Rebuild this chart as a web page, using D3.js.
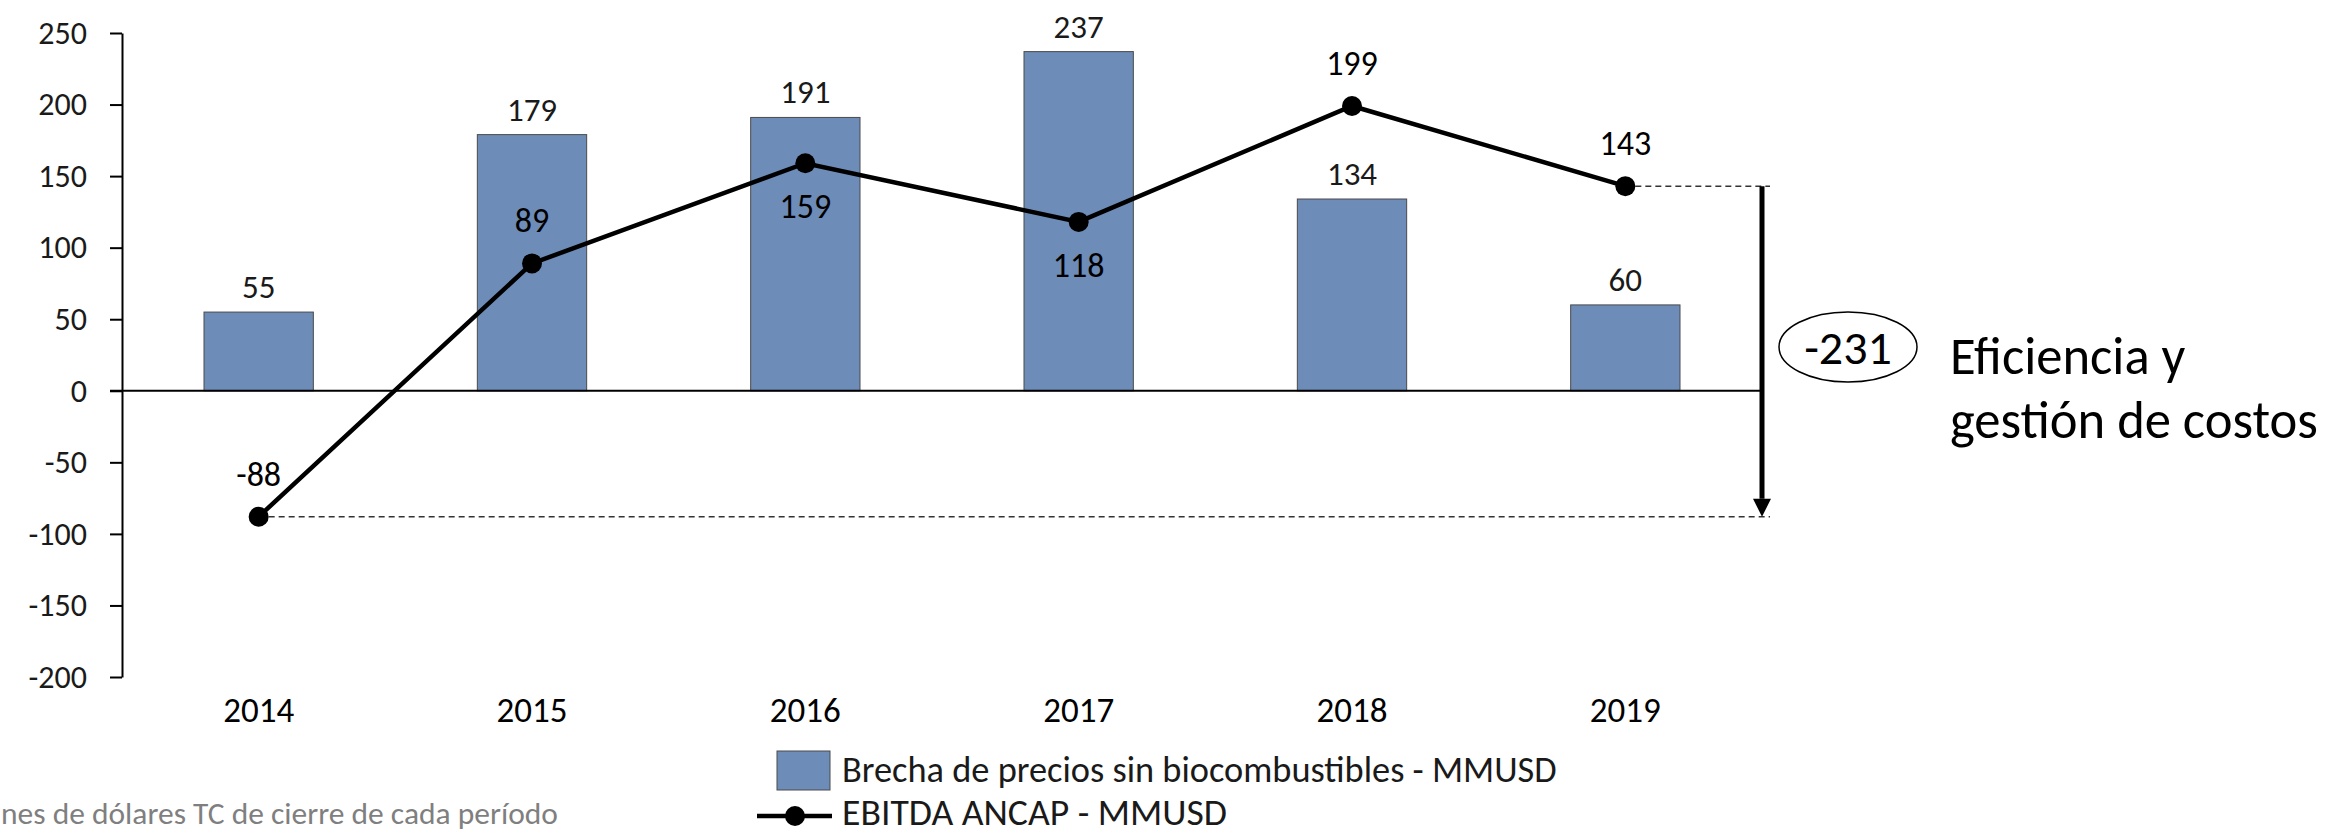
<!DOCTYPE html>
<html><head><meta charset="utf-8">
<script src="https://cdn.jsdelivr.net/npm/d3@7"></script>
<style>
html,body{margin:0;padding:0;background:#fff;overflow:hidden}
svg{display:block;font-family:Carlito,Lato,"Open Sans",sans-serif}
</style></head>
<body><svg id="c" width="2352" height="835"></svg>
<script>
const years = ["2014","2015","2016","2017","2018","2019"];
const brecha = [55,179,191,237,134,60];
const ebitda = [-88,89,159,118,199,143];
const yTicks = [250,200,150,100,50,0,-50,-100,-150,-200];
const ebitdaLabelPos = ["above","above","below","below","above","above"];
const seriesNames = ["Brecha de precios sin biocombustibles - MMUSD","EBITDA ANCAP - MMUSD"];
const gapValue = "-231";
const annotation = ["Eficiencia y","gestión de costos"];
const noteVisible = "nes de dólares TC de cierre de cada período";

const svg = d3.select("#c");
const barColor = "#6d8cb8";

const x = d3.scaleBand().domain(years).range([122,1762]).padding(0);
const y = d3.scaleLinear().domain([-200,250]).range([677,33]);
const cx = d => x(d) + x.bandwidth()/2;
const bw = x.bandwidth()*0.4;

function fit(sel, target){
  const n = sel.node(); const w = n.getComputedTextLength();
  const fs = parseFloat(sel.attr("font-size"));
  sel.attr("font-size", fs*target/w);
}

// y axis
const ax = svg.append("g").attr("transform","translate(122,0)")
  .call(d3.axisLeft(y).tickValues(yTicks).tickFormat(d=>String(d)).tickSize(12).tickSizeOuter(0).tickPadding(23));
ax.selectAll("path,line").attr("stroke","#000").attr("stroke-width",2);
ax.selectAll("text").attr("font-size",32).attr("font-weight",300).attr("fill","#1a1a1a")
  .attr("font-family","Carlito,Lato,sans-serif");

// bars
svg.append("g").selectAll("rect").data(years).join("rect")
  .attr("x",(d)=>cx(d)-bw/2).attr("width",bw)
  .attr("y",(d,i)=>y(Math.max(0,brecha[i])))
  .attr("height",(d,i)=>Math.abs(y(brecha[i])-y(0)))
  .attr("fill",barColor).attr("stroke","#4a4a4a").attr("stroke-width",1);

// zero line
svg.append("line").attr("x1",110).attr("x2",x.range()[1]).attr("y1",y(0)).attr("y2",y(0))
  .attr("stroke","#000").attr("stroke-width",2);

// bar labels
svg.append("g").selectAll("text").data(years).join("text")
  .attr("x",d=>cx(d)).attr("y",(d,i)=>y(brecha[i])-14)
  .attr("text-anchor","middle").attr("font-size",33).attr("font-weight",300).attr("fill","#1a1a1a")
  .text((d,i)=>brecha[i]);

// dashed reference lines
const xEnd = x.range()[1]+8;
[[0,ebitda[0]],[5,ebitda[5]]].forEach(([i,v])=>{
  svg.append("line").attr("x1",cx(years[i])).attr("x2",xEnd).attr("y1",y(v)).attr("y2",y(v))
    .attr("stroke","#333").attr("stroke-width",1.5).attr("stroke-dasharray","6,4");
});

// line
const line = d3.line().x((d,i)=>cx(years[i])).y(d=>y(d));
svg.append("path").datum(ebitda).attr("d",line).attr("fill","none")
  .attr("stroke","#000").attr("stroke-width",4.5);
svg.append("g").selectAll("circle").data(ebitda).join("circle")
  .attr("cx",(d,i)=>cx(years[i])).attr("cy",d=>y(d)).attr("r",10).attr("fill","#000");
svg.append("g").selectAll("text").data(ebitda).join("text")
  .attr("x",(d,i)=>cx(years[i]))
  .attr("y",(d,i)=>ebitdaLabelPos[i]==="above"? y(d)-31 : y(d)+55)
  .attr("text-anchor","middle").attr("font-size",34).attr("fill","#000")
  .text(d=>String(d));

// category labels
svg.append("g").selectAll("text").data(years).join("text")
  .attr("x",d=>cx(d)).attr("y",722).attr("text-anchor","middle")
  .attr("font-size",35).attr("fill","#000").text(d=>d);

// arrow
const ax2 = x.range()[1];
svg.append("line").attr("x1",ax2).attr("x2",ax2).attr("y1",y(ebitda[5])).attr("y2",y(ebitda[0])-18)
  .attr("stroke","#000").attr("stroke-width",5);
svg.append("path").attr("d",`M${ax2-9},${y(ebitda[0])-18} L${ax2+9},${y(ebitda[0])-18} L${ax2},${y(ebitda[0])} Z`)
  .attr("fill","#000");

// ellipse label
svg.append("ellipse").attr("cx",1848).attr("cy",347).attr("rx",69).attr("ry",35)
  .attr("fill","none").attr("stroke","#000").attr("stroke-width",1.5);
svg.append("text").attr("x",1848).attr("y",364).attr("text-anchor","middle")
  .attr("font-size",48).attr("fill","#000").text(gapValue);
const a1 = svg.append("text").attr("x",1950).attr("y",374).attr("font-size",44).attr("fill","#000").text(annotation[0]);
const a2 = svg.append("text").attr("x",1950).attr("y",438).attr("font-size",44).attr("fill","#000").text(annotation[1]);
fit(a2,368); a1.attr("font-size",a2.attr("font-size"));

// legend
svg.append("rect").attr("x",777).attr("y",751).attr("width",53).attr("height",39)
  .attr("fill",barColor).attr("stroke","#4a4a4a").attr("stroke-width",1);
const l1 = svg.append("text").attr("x",842).attr("y",782).attr("font-size",33).attr("fill","#1a1a1a").text(seriesNames[0]);
fit(l1,715);
svg.append("line").attr("x1",757).attr("x2",832).attr("y1",816).attr("y2",816).attr("stroke","#000").attr("stroke-width",4.5);
svg.append("circle").attr("cx",795).attr("cy",816).attr("r",10).attr("fill","#000");
const l2 = svg.append("text").attr("x",842).attr("y",825).attr("font-size",33).attr("fill","#1a1a1a").text(seriesNames[1]);
fit(l2,385);

// note
const nt = svg.append("text").attr("x",1).attr("y",824)
  .attr("font-size",30).attr("fill","#7f7f7f").text(noteVisible);
fit(nt,557);
</script></body></html>
